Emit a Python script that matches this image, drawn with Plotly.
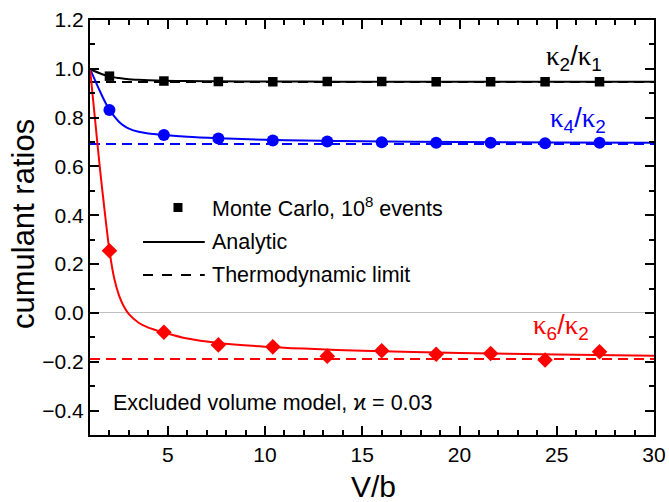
import plotly.graph_objects as go

# Monte Carlo points
mc_x = [2, 4.8, 7.6, 10.4, 13.2, 16, 18.8, 21.6, 24.4, 27.2]
mc_k2k1 = [0.970, 0.950, 0.948, 0.947, 0.948, 0.948, 0.947, 0.947, 0.947, 0.947]
mc_k4k2 = [0.831, 0.729, 0.715, 0.706, 0.702, 0.699, 0.697, 0.697, 0.695, 0.697]
mc_k6k2 = [0.255, -0.079, -0.131, -0.139, -0.177, -0.155, -0.169, -0.166, -0.193, -0.159]

# Analytic curves
an_x = [1, 1.25, 1.5, 1.75, 2, 2.25, 2.5, 2.75, 3, 3.5, 4, 4.8, 6, 7.6, 10, 12, 15, 20, 25, 30]
an_k2k1 = [1.0, 0.990, 0.982, 0.975, 0.969, 0.965, 0.962, 0.959, 0.957, 0.955, 0.953, 0.951,
           0.950, 0.949, 0.948, 0.948, 0.947, 0.947, 0.947, 0.947]
an_k4k2 = [1.0, 0.955, 0.910, 0.868, 0.832, 0.805, 0.782, 0.766, 0.755, 0.742, 0.735, 0.729,
           0.722, 0.716, 0.709, 0.706, 0.703, 0.700, 0.698, 0.697]
an_k6k2 = [1.0, 0.80, 0.60, 0.42, 0.255, 0.14, 0.07, 0.025, -0.005, -0.04, -0.06, -0.08,
           -0.105, -0.123, -0.138, -0.146, -0.155, -0.164, -0.170, -0.175]

# Thermodynamic limits
tl_x = [1, 30]
tl_k2k1 = 0.946
tl_k4k2 = 0.692
tl_k6k2 = -0.189

x_ticks = [5, 10, 15, 20, 25, 30]

BLACK = "#000000"
BLUE = "#0000ff"
RED = "#ff0000"
FONT = "Liberation Sans, Arial, sans-serif"

fig = go.Figure()

series = [
    (an_k2k1, tl_k2k1, mc_k2k1, BLACK, "square", 9.5),
    (an_k4k2, tl_k4k2, mc_k4k2, BLUE, "circle", 12),
    (an_k6k2, tl_k6k2, mc_k6k2, RED, "diamond", 12),
]
for an, tl, mc, col, sym, size in series:
    fig.add_trace(go.Scatter(x=tl_x, y=[tl, tl], mode="lines",
                             line=dict(color=col, width=2, dash="10px,6px"),
                             showlegend=False, hoverinfo="skip"))
    fig.add_trace(go.Scatter(x=an_x, y=an, mode="lines",
                             line=dict(color=col, width=2, shape="spline", smoothing=0.8),
                             showlegend=False))
    fig.add_trace(go.Scatter(x=mc_x, y=mc, mode="markers",
                             marker=dict(color=col, symbol=sym, size=size, line=dict(width=0)),
                             showlegend=False))

# manual legend
fig.add_shape(type="rect", xref="paper", yref="paper", x0=0.1480, x1=0.1640, y0=0.5373, y1=0.5590,
              fillcolor=BLACK, line=dict(width=0))
fig.add_shape(type="line", xref="paper", yref="paper", x0=0.0940, x1=0.2035, y0=0.4651, y1=0.4651,
              line=dict(color=BLACK, width=2))
fig.add_shape(type="line", xref="paper", yref="paper", x0=0.0940, x1=0.2035, y0=0.3855, y1=0.3855,
              line=dict(color=BLACK, width=2, dash="10px,9px"))
leg_txt = [("Monte Carlo, 10<sup>8</sup> events", 0.549), ("Analytic", 0.4651), ("Thermodynamic limit", 0.3855)]
for t, yy in leg_txt:
    fig.add_annotation(text=t, xref="paper", yref="paper", x=0.213, y=yy, xanchor="left",
                       yanchor="middle", showarrow=False, font=dict(size=21.5, color=BLACK, family=FONT))

kap = '<span style="font-family:Liberation Serif">κ</span>'
labels = [
    (kap + "<sub>2</sub>/" + kap + "<sub>1</sub>", 25.9, 1.044, BLACK),
    (kap + "<sub>4</sub>/" + kap + "<sub>2</sub>", 26.1, 0.79, BLUE),
    (kap + "<sub>6</sub>/" + kap + "<sub>2</sub>", 25.2, -0.058, RED),
]
for t, xx, yy, col in labels:
    fig.add_annotation(text=t, x=xx, y=yy, showarrow=False, xanchor="center", yanchor="middle",
                       font=dict(size=27, color=col, family=FONT))

fig.add_annotation(text="Excluded volume model, ϰ = 0.03", x=2.1, y=-0.37, xanchor="left",
                   yanchor="middle", showarrow=False, font=dict(size=21.5, color=BLACK, family=FONT))

# axis titles
fig.add_annotation(text="V/b", xref="paper", yref="paper", x=0.502, y=-0.125, xanchor="center",
                   yanchor="middle", showarrow=False, font=dict(size=30, color=BLACK, family=FONT))
fig.add_annotation(text="cumulant ratios", xref="paper", yref="paper", x=-0.119, y=0.508,
                   xanchor="center", yanchor="middle", textangle=-90, showarrow=False,
                   font=dict(size=31, color=BLACK, family=FONT))

axis_common = dict(showline=True, linecolor=BLACK, linewidth=2, mirror="ticks", ticks="inside",
                   tickcolor=BLACK, tickwidth=1.5, ticklen=9, showgrid=False, automargin=False,
                   tickfont=dict(size=21, family=FONT, color=BLACK))
fig.update_xaxes(range=[1, 30], tickvals=x_ticks, zeroline=False,
                 minor=dict(dtick=1, tick0=0, ticks="inside", ticklen=5, tickcolor=BLACK, tickwidth=1.5),
                 **axis_common)
fig.update_yaxes(range=[-0.5, 1.2], dtick=0.2, tick0=0, tickformat=".1f",
                 zeroline=True, zerolinecolor="#c0c0c0", zerolinewidth=1,
                 minor=dict(dtick=0.1, tick0=0, ticks="inside", ticklen=5, tickcolor=BLACK, tickwidth=1.5),
                 **axis_common)

fig.update_layout(width=669, height=502, margin=dict(l=90, r=15, t=20, b=67),
                  plot_bgcolor="white", paper_bgcolor="white",
                  font=dict(family=FONT, color=BLACK))

fig.write_html("out.html", config={"displayModeBar": False},
               post_script="document.body.style.margin='0';document.body.style.overflow='hidden';")
